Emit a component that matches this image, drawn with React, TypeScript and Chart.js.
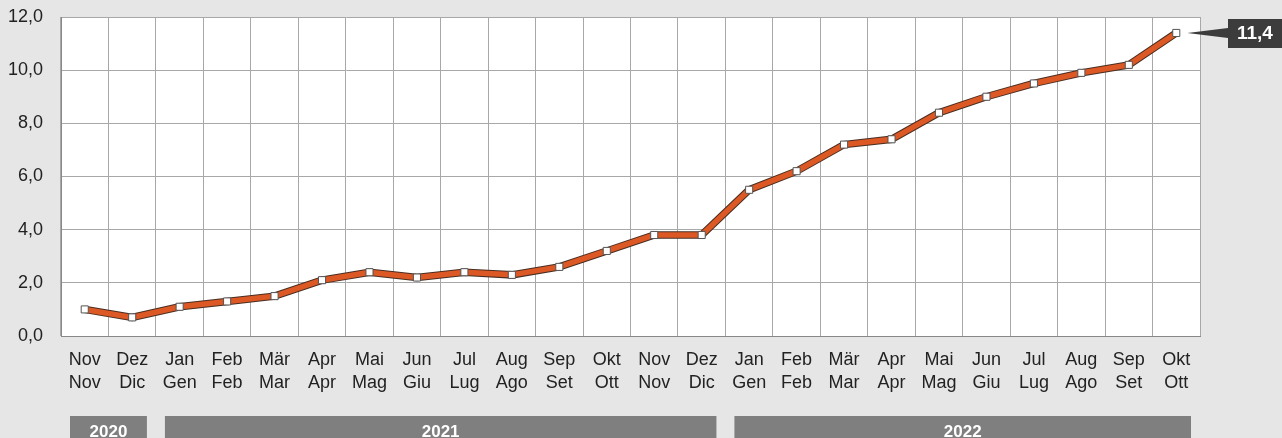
import React, { useEffect, useRef } from "react";
import { Chart, registerables } from "chart.js";

Chart.register(...registerables);

const monthsTop = ["Nov", "Dez", "Jan", "Feb", "Mär", "Apr", "Mai", "Jun", "Jul", "Aug", "Sep", "Okt", "Nov", "Dez", "Jan", "Feb", "Mär", "Apr", "Mai", "Jun", "Jul", "Aug", "Sep", "Okt"];
const monthsBottom = ["Nov", "Dic", "Gen", "Feb", "Mar", "Apr", "Mag", "Giu", "Lug", "Ago", "Set", "Ott", "Nov", "Dic", "Gen", "Feb", "Mar", "Apr", "Mag", "Giu", "Lug", "Ago", "Set", "Ott"];
const values = [1.0, 0.7, 1.1, 1.3, 1.5, 2.1, 2.4, 2.2, 2.4, 2.3, 2.6, 3.2, 3.8, 3.8, 5.5, 6.2, 7.2, 7.4, 8.4, 9.0, 9.5, 9.9, 10.2, 11.4];
const yearLabels = ["2020", "2021", "2022"];
const yearStart = [0, 2, 14];
const yearEnd = [1, 13, 23];
const lastLabel = "11,4";

const fmt = (v: number) => v.toFixed(1).replace(".", ",");

export default function App() {
  const ref = useRef<HTMLCanvasElement>(null);
  useEffect(() => {
    document.body.style.margin = "0";
    const labels = monthsTop.map((m, i) => [m, monthsBottom[i]]);
    const bgPlugin = {
      id: "bg",
      beforeDraw(chart: any) {
        const { ctx, chartArea: a } = chart;
        ctx.save();
        ctx.fillStyle = "#e6e6e6";
        ctx.fillRect(0, 0, chart.width, chart.height);
        ctx.fillStyle = "#ffffff";
        ctx.fillRect(a.left, a.top, a.right - a.left, a.bottom - a.top);
        ctx.restore();
      },
      afterDraw(chart: any) {
        const { ctx } = chart;
        const xs = chart.scales.x;
        const cw = xs.width / monthsTop.length;
        ctx.save();
        // year bars
        for (let i = 0; i < yearLabels.length; i++) {
          const x0 = xs.getPixelForValue(yearStart[i]) - cw / 2 + 9;
          const x1 = xs.getPixelForValue(yearEnd[i]) + cw / 2 - 9;
          ctx.fillStyle = "#7f7f7f";
          ctx.fillRect(x0, 416, x1 - x0, 30);
          ctx.fillStyle = "#ffffff";
          ctx.font = "bold 17px 'Liberation Sans', Arial, sans-serif";
          ctx.textAlign = "center";
          ctx.textBaseline = "middle";
          ctx.fillText(yearLabels[i], (x0 + x1) / 2, 432);
        }
        // last value label
        const meta = chart.getDatasetMeta(0);
        const pt = meta.data[meta.data.length - 1];
        const px = pt.x + 11;
        const py = pt.y;
        const bx = 1228;
        ctx.fillStyle = "#3c3c3c";
        ctx.beginPath();
        ctx.moveTo(px, py);
        ctx.lineTo(bx, py - 5);
        ctx.lineTo(bx, py + 5);
        ctx.closePath();
        ctx.fill();
        ctx.fillRect(bx, 19, 60, 29);
        ctx.fillStyle = "#ffffff";
        ctx.font = "bold 19px 'Liberation Sans', Arial, sans-serif";
        ctx.textAlign = "left";
        ctx.textBaseline = "middle";
        ctx.fillText(lastLabel, 1237, 34);
        ctx.restore();
      },
    };
    const chart = new Chart(ref.current!, {
      type: "line",
      data: {
        labels,
        datasets: [
          {
            data: values,
            borderColor: "#dc5824",
            borderWidth: 5.5,
            pointStyle: "rect",
            pointRadius: 5,
            pointBackgroundColor: "#ffffff",
            pointBorderColor: "#555555",
            pointBorderWidth: 1,
            tension: 0,
          },
          {
            data: values,
            borderColor: "#4a2e22",
            borderWidth: 7.5,
            pointRadius: 0,
            tension: 0,
          },
        ],
      },
      options: {
        responsive: false,
        animation: false,
        layout: { padding: { left: 0, right: 82, top: 17, bottom: 0 } },
        plugins: { legend: { display: false }, tooltip: { enabled: false } },
        scales: {
          x: {
            offset: true,
            grid: { color: "#a8a8a8", lineWidth: 1, offset: true, drawTicks: false },
            border: { color: "#888888", width: 1 },
            ticks: {
              color: "#222222",
              font: { family: "'Liberation Sans', Arial, sans-serif", size: 18, lineHeight: 1.25 },
              maxRotation: 0,
              autoSkip: false,
              padding: 13,
            },
            afterFit(s: any) {
              s.height = 102;
              s.paddingLeft = 0;
              s.paddingRight = 0;
            },
          },
          y: {
            min: 0,
            max: 12,
            grid: { color: "#a8a8a8", lineWidth: 1, drawTicks: false },
            border: { color: "#888888", width: 1 },
            ticks: {
              stepSize: 2,
              color: "#222222",
              font: { family: "'Liberation Sans', Arial, sans-serif", size: 18 },
              padding: 18,
              callback: (v: any) => fmt(Number(v)),
            },
            afterFit(s: any) {
              s.width = 61;
              s.paddingTop = 0;
              s.paddingBottom = 0;
            },
          },
        },
      },
      plugins: [bgPlugin],
    });
    return () => chart.destroy();
  }, []);
  return <canvas ref={ref} width={1282} height={438} style={{ display: "block" }} />;
}
